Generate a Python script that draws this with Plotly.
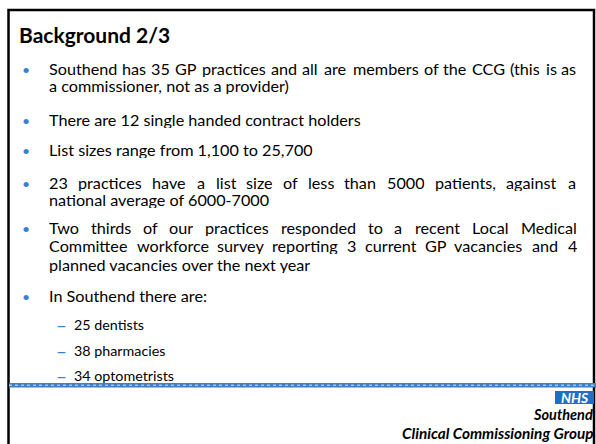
import plotly.graph_objects as go

# ---------------- content (text of the slide) ----------------
title = "Background 2/3"

# each paragraph: list of lines (as wrapped on the slide)
bullet_paras = [
    ["Southend has 35 GP practices and all are members of the CCG (this is as",
     "a commissioner, not as a provider)"],
    ["There are 12 single handed contract holders"],
    ["List sizes range from 1,100 to 25,700"],
    ["23 practices have a list size of less than 5000 patients, against a",
     "national average of 6000-7000"],
    ["Two thirds of our practices responded to a recent Local Medical",
     "Committee workforce survey reporting 3 current GP vacancies and 4",
     "planned vacancies over the next year"],
    ["In Southend there are:"],
]
sub_items = ["25 dentists", "38 pharmacies", "34 optometrists"]

logo_text = "NHS"
org_line1 = "Southend"
org_line2 = "Clinical Commissioning Group"

# ---------------- layout / style ----------------
W, H = 596, 444
FONT = "Lato"
BLUE = "#3a80d2"
BAND = "#3f7fc4"
NHS_BLUE = "#1f6fc5"

para_y = [[68.5, 85.5], [119.5], [149.5], [182.5, 199.5], [227.5, 245.5, 264.5], [295.5]]
sub_y = [324, 350, 375]
TEXT_X0, TEXT_X1 = 48, 576
BODY_SIZE = 16.2
LINE_BOX = 17

# approximate Lato advance widths (em) used only to justify lines
CW = {' ': 0.193}
for c in "abdeghnopqu": CW[c] = 0.55
CW.update({'c': 0.46, 'f': 0.32, 'i': 0.235, 'j': 0.235, 'k': 0.49, 'l': 0.235,
           'm': 0.83, 'r': 0.36, 's': 0.42, 't': 0.35, 'v': 0.5, 'w': 0.76,
           'x': 0.48, 'y': 0.5, 'z': 0.45, ',': 0.22, '.': 0.22, '-': 0.34,
           '(': 0.3, ')': 0.3, ':': 0.22})
for c in "0123456789": CW[c] = 0.58
for c in "ABCDEFGHIJKLMNOPQRSTUVWXYZ": CW[c] = 0.64
CW.update({'M': 0.86, 'L': 0.48, 'T': 0.57, 'S': 0.52, 'I': 0.27, 'C': 0.67,
           'G': 0.71, 'P': 0.6, 'W': 0.98})


def wwidth(word, size):
    return sum(CW.get(ch, 0.55) for ch in word) * size


fig = go.Figure()
fig.add_trace(go.Scatter(x=[0], y=[0], mode="markers", marker=dict(opacity=0),
                         hoverinfo="skip", showlegend=False))

ann = []


def add_text(x, y, text, size, color="black", xanchor="left", height=None):
    a = dict(x=x, y=y, xref="x", yref="y", text=text, showarrow=False,
             xanchor=xanchor, yanchor="middle", borderpad=0,
             font=dict(family=FONT, size=size, color=color))
    if height:
        a["height"] = height
    ann.append(a)


# title
add_text(18, 34, "<b>" + title + "</b>", 21)

# bullets
for para, ys in zip(bullet_paras, para_y):
    add_text(21, ys[0] + 1, "•", 14, BLUE)
    for i, (line, y) in enumerate(zip(para, ys)):
        words = line.split(" ")
        widths = [wwidth(w, BODY_SIZE) for w in words]
        gap = (TEXT_X1 - TEXT_X0 - sum(widths)) / max(len(words) - 1, 1)
        last = (i == len(para) - 1)
        if last or gap < 5:
            add_text(TEXT_X0, y, line, BODY_SIZE, height=LINE_BOX)
        else:
            x = TEXT_X0
            for w, ww in zip(words, widths):
                add_text(x, y, w, BODY_SIZE, height=LINE_BOX)
                x += ww + gap

# sub items
for item, y in zip(sub_items, sub_y):
    add_text(55, y, "–", 19, BLUE)
    add_text(73, y, item, 14.3)

# logo + organisation
add_text(574.5, 397.5, "<b><i>" + logo_text + "</i></b>", 14, "white", "center")
add_text(594, 414, "<b><i>" + org_line1 + "</i></b>", 14.5, "black", "right")
add_text(594, 433, "<b><i>" + org_line2 + "</i></b>", 15.3, "black", "right")

shapes = [
    # slide frame
    dict(type="path", path="M 8.5 444 L 8.5 10 L 594 10 L 594 444",
         line=dict(color="black", width=2.5), xref="x", yref="y"),
    # blue band
    dict(type="rect", x0=9, x1=596, y0=383, y1=387.5, fillcolor=BAND,
         line=dict(width=0), xref="x", yref="y"),
    dict(type="line", x0=9, x1=596, y0=385.2, y1=385.2,
         line=dict(color="#d8e6f6", width=1, dash="dot"), xref="x", yref="y"),
    # NHS box
    dict(type="rect", x0=555, x1=594, y0=391, y1=404, fillcolor=NHS_BLUE,
         line=dict(width=0), xref="x", yref="y"),
]

fig.update_layout(
    width=W, height=H, margin=dict(l=0, r=0, t=0, b=0),
    paper_bgcolor="white", plot_bgcolor="white",
    xaxis=dict(range=[0, W], visible=False, fixedrange=True),
    yaxis=dict(range=[H, 0], visible=False, fixedrange=True),
    annotations=ann, shapes=shapes, showlegend=False,
)
fig.write_html(
    "out.html",
    config={"displayModeBar": False},
    post_script="document.body.style.margin='0';document.body.style.overflow='hidden';",
)
